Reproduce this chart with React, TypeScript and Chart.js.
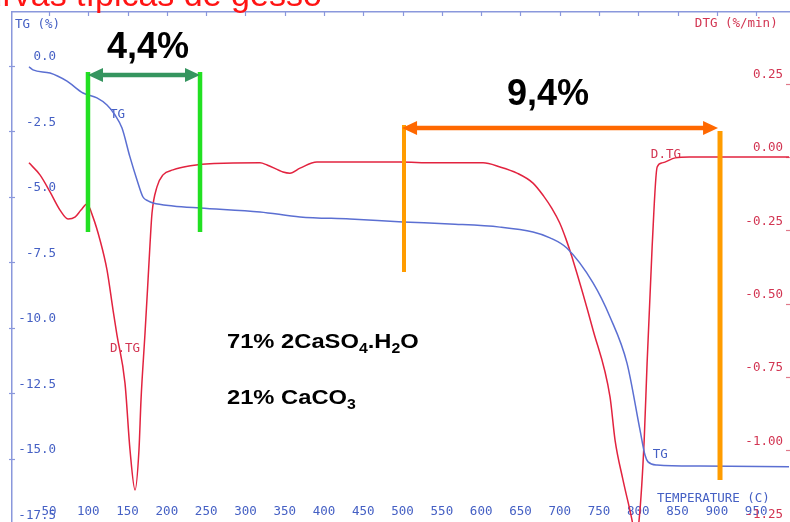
import React, { useEffect, useRef } from "react";
import { Chart, registerables } from "chart.js";

Chart.register(...registerables);

// ---- data ----
const tgTemp = [24.5, 29.6, 51.3, 72.9, 93.3, 111, 123.8, 134, 142.9, 153, 162, 169.6, 176, 182.4, 207.8, 242.2, 318.6, 369.5, 433, 500.5, 560, 624, 666, 687.6, 709, 742.4, 764, 785.6, 802.2, 808.5, 812.4, 823.8, 878.6, 991.8];
const tgValues = [-0.03, -0.15, -0.27, -0.58, -1.03, -1.22, -1.49, -1.87, -2.37, -3.47, -4.35, -5.0, -5.15, -5.23, -5.34, -5.42, -5.57, -5.76, -5.84, -5.95, -6.03, -6.15, -6.34, -6.56, -6.95, -8.28, -9.58, -11.34, -13.9, -14.85, -15.11, -15.23, -15.27, -15.3];

const dtgTemp = [24.5, 38.5, 51.3, 64, 74.2, 83, 90.7, 98.4, 106, 114.9, 123.8, 131.5, 136.5, 146.7, 153.1, 159.5, 164.5, 167.1, 172.2, 175.4, 178.5, 181.1, 187.4, 195.1, 207.8, 230, 260, 318.5, 327.5, 347.8, 356.7, 369.5, 391, 433, 496.7, 538.7, 602.4, 624, 645.6, 666, 680, 690, 700, 708, 715.6, 742.4, 764, 770.4, 780.5, 792, 796, 801, 807.5, 811.2, 817.6, 824, 830.4, 847, 865, 991.8];
const dtgValues = [-0.02, -0.061, -0.119, -0.181, -0.211, -0.205, -0.181, -0.16, -0.205, -0.283, -0.385, -0.522, -0.607, -0.771, -0.999, -1.135, -0.999, -0.828, -0.6, -0.45, -0.3, -0.191, -0.102, -0.061, -0.044, -0.03, -0.022, -0.02, -0.027, -0.051, -0.055, -0.038, -0.017, -0.017, -0.017, -0.02, -0.02, -0.034, -0.055, -0.089, -0.135, -0.175, -0.225, -0.28, -0.341, -0.59, -0.818, -0.965, -1.101, -1.238, -1.3, -1.238, -0.965, -0.702, -0.307, -0.034, -0.02, -0.003, 0, 0];

const tempTicks = [50, 100, 150, 200, 250, 300, 350, 400, 450, 500, 550, 600, 650, 700, 750, 800, 850, 900, 950];
const tgTicks = [0, -2.5, -5, -7.5, -10, -12.5, -15, -17.5];
const tgTickLabels = ["0.0", "-2.5", "-5.0", "-7.5", "-10.0", "-12.5", "-15.0", "-17.5"];
const dtgTicks = [0.25, 0, -0.25, -0.5, -0.75, -1.0, -1.25];
const dtgTickLabels = ["0.25", "0.00", "-0.25", "-0.50", "-0.75", "-1.00", "-1.25"];

// ---- styles ----
const TG_COLOR = "#5b6fd2";
const DTG_COLOR = "#e2233f";
const AXIS_BLUE = "#8a98dc";
const LABEL_BLUE = "#4560c4";
const LABEL_RED = "#d23552";
const MONO = '"DejaVu Sans Mono", monospace';
const SANS = '"Liberation Sans", Arial, sans-serif';

function arrow(ctx: CanvasRenderingContext2D, x1: number, x2: number, y: number, color: string, w: number) {
  const hl = 15, hh = 7;
  ctx.strokeStyle = color;
  ctx.fillStyle = color;
  ctx.lineWidth = w;
  ctx.beginPath();
  ctx.moveTo(x1 + hl - 2, y);
  ctx.lineTo(x2 - hl + 2, y);
  ctx.stroke();
  ctx.beginPath();
  ctx.moveTo(x1, y);
  ctx.lineTo(x1 + hl, y - hh);
  ctx.lineTo(x1 + hl, y + hh);
  ctx.closePath();
  ctx.fill();
  ctx.beginPath();
  ctx.moveTo(x2, y);
  ctx.lineTo(x2 - hl, y - hh);
  ctx.lineTo(x2 - hl, y + hh);
  ctx.closePath();
  ctx.fill();
}

function vline(ctx: CanvasRenderingContext2D, x: number, y1: number, y2: number, color: string, w: number) {
  ctx.strokeStyle = color;
  ctx.lineWidth = w;
  ctx.beginPath();
  ctx.moveTo(x, y1);
  ctx.lineTo(x, y2);
  ctx.stroke();
}

function chem(ctx: CanvasRenderingContext2D, parts: [string, boolean][], x: number, y: number) {
  ctx.save();
  ctx.translate(x, y);
  ctx.scale(1.13, 1);
  let cx = 0;
  for (const [t, sub] of parts) {
    ctx.font = sub ? `bold 14px ${SANS}` : `bold 21px ${SANS}`;
    ctx.fillText(t, cx, sub ? 5 : 0);
    cx += ctx.measureText(t).width;
  }
  ctx.restore();
}

const decor = {
  id: "decor",
  beforeDatasetsDraw(chart: any) {
    const { ctx, chartArea } = chart;
    const xs = chart.scales.x, ys = chart.scales.y, y2s = chart.scales.y2;
    ctx.save();
    // red cut-off title
    ctx.fillStyle = "#ff1414";
    ctx.font = `34px ${SANS}`;
    ctx.textAlign = "left";
    ctx.textBaseline = "alphabetic";
    const pre = ctx.measureText("Curvas tí").width;
    ctx.fillText("Curvas típicas de gesso", 95 - pre, 6);

    // ticks
    ctx.strokeStyle = AXIS_BLUE;
    ctx.lineWidth = 1.2;
    for (const t of tempTicks) {
      const px = Math.round(xs.getPixelForValue(t)) + 0.5;
      ctx.beginPath();
      ctx.moveTo(px, chartArea.top);
      ctx.lineTo(px, chartArea.top + 4);
      ctx.stroke();
    }
    for (const v of tgTicks) {
      const py = Math.round(ys.getPixelForValue(v)) + 0.5;
      ctx.beginPath();
      ctx.moveTo(chartArea.left - 3, py);
      ctx.lineTo(chartArea.left + 3, py);
      ctx.stroke();
    }
    ctx.strokeStyle = "#e07a8a";
    for (const v of dtgTicks) {
      const py = Math.round(y2s.getPixelForValue(v)) + 0.5;
      ctx.beginPath();
      ctx.moveTo(chartArea.right - 3, py);
      ctx.lineTo(chartArea.right + 1, py);
      ctx.stroke();
    }

    // tick labels
    ctx.font = `12.5px ${MONO}`;
    ctx.textBaseline = "middle";
    ctx.fillStyle = LABEL_BLUE;
    ctx.textAlign = "right";
    tgTicks.forEach((v, i) => {
      ctx.fillText(tgTickLabels[i], chartArea.left + 44, ys.getPixelForValue(v) - 9);
    });
    ctx.textAlign = "center";
    tempTicks.forEach((t) => {
      ctx.fillText(String(t), xs.getPixelForValue(t), chartArea.bottom - 10);
    });
    ctx.fillStyle = LABEL_RED;
    ctx.textAlign = "right";
    dtgTicks.forEach((v, i) => {
      ctx.fillText(dtgTickLabels[i], chartArea.right - 6, y2s.getPixelForValue(v) - 9);
    });

    // axis / curve captions
    ctx.textAlign = "left";
    ctx.textBaseline = "alphabetic";
    ctx.fillStyle = LABEL_BLUE;
    ctx.fillText("TG (%)", xs.getPixelForValue(6.7), ys.getPixelForValue(1.45));
    ctx.fillText("TG", xs.getPixelForValue(127.6), ys.getPixelForValue(-1.98));
    ctx.fillText("TG", xs.getPixelForValue(818.5), ys.getPixelForValue(-14.96));
    ctx.fillText("TEMPERATURE (C)", xs.getPixelForValue(823.8), ys.getPixelForValue(-16.64));
    ctx.fillStyle = LABEL_RED;
    ctx.fillText("DTG (%/min)", xs.getPixelForValue(872), ys.getPixelForValue(1.49));
    ctx.fillText("D.TG", xs.getPixelForValue(127.6), ys.getPixelForValue(-10.92));
    ctx.fillText("D.TG", xs.getPixelForValue(816), ys.getPixelForValue(-3.51));
    ctx.restore();
  },
  afterDatasetsDraw(chart: any) {
    const { ctx } = chart;
    const X = (t: number) => chart.scales.x.getPixelForValue(t);
    const Y = (v: number) => chart.scales.y.getPixelForValue(v);
    ctx.save();
    ctx.lineCap = "butt";
    // green: first mass loss
    vline(ctx, X(99.6), Y(-0.23), Y(-6.34), "#22e022", 4.5);
    vline(ctx, X(242.2), Y(-0.23), Y(-6.34), "#22e022", 4.5);
    arrow(ctx, X(99.6), X(242.2), Y(-0.34), "#35955f", 4.5);
    // orange: second mass loss
    vline(ctx, X(501.8), Y(-2.25), Y(-7.86), "#ff9c00", 4);
    vline(ctx, X(904), Y(-2.48), Y(-15.8), "#ff9c00", 5);
    arrow(ctx, X(499.3), X(901.5), Y(-2.37), "#ff6800", 4.5);

    ctx.fillStyle = "#000";
    ctx.textAlign = "center";
    ctx.textBaseline = "alphabetic";
    ctx.font = `bold 36px ${SANS}`;
    ctx.fillText("4,4%", X(176), Y(0.305));
    ctx.fillText("9,4%", X(685), Y(-1.49));

    ctx.textAlign = "left";
    chem(ctx, [["71% 2CaSO", false], ["4", true], [".H", false], ["2", true], ["O", false]], X(276.5), Y(-10.76));
    chem(ctx, [["21% CaCO", false], ["3", true]], X(276.5), Y(-12.9));
    ctx.restore();
  },
};

export default function App() {
  const ref = useRef<HTMLCanvasElement | null>(null);
  useEffect(() => {
    document.body.style.margin = "0";
    const canvas = ref.current;
    if (!canvas) return;
    const zero = (s: any) => {
      if (s.isHorizontal()) s.height = 0;
      else s.width = 0;
    };
    const chart = new Chart(canvas, {
      type: "line",
      data: {
        datasets: [
          {
            label: "TG",
            data: tgTemp.map((t, i) => ({ x: t, y: tgValues[i] })),
            yAxisID: "y",
            borderColor: TG_COLOR,
            borderWidth: 1.5,
            pointRadius: 0,
            cubicInterpolationMode: "monotone",
            fill: false,
          },
          {
            label: "D.TG",
            data: dtgTemp.map((t, i) => ({ x: t, y: dtgValues[i] })),
            yAxisID: "y2",
            borderColor: DTG_COLOR,
            borderWidth: 1.5,
            pointRadius: 0,
            cubicInterpolationMode: "monotone",
            fill: false,
          },
        ],
      },
      options: {
        animation: false,
        responsive: true,
        maintainAspectRatio: false,
        events: [],
        layout: { padding: { left: 12, top: 12, right: 1, bottom: 0 } },
        plugins: { legend: { display: false }, tooltip: { enabled: false }, title: { display: false } },
        scales: {
          x: {
            type: "linear",
            position: "top",
            min: 2.9,
            max: 991.8,
            ticks: { display: false },
            grid: { display: true, drawOnChartArea: false, drawTicks: false },
            border: { display: true, color: AXIS_BLUE, width: 1.5 },
            afterFit: zero,
          },
          y: {
            type: "linear",
            position: "left",
            min: -17.405,
            max: 2.061,
            ticks: { display: false },
            grid: { display: true, drawOnChartArea: false, drawTicks: false },
            border: { display: true, color: AXIS_BLUE, width: 1.5 },
            afterFit: zero,
          },
          y2: {
            type: "linear",
            position: "right",
            min: -1.2445,
            max: 0.4944,
            ticks: { display: false },
            grid: { display: true, drawOnChartArea: false, drawTicks: false },
            border: { display: false },
            afterFit: zero,
          },
        },
      } as any,
      plugins: [decor],
    });
    return () => chart.destroy();
  }, []);
  return (
    <div style={{ position: "fixed", left: 0, top: 0, width: 790, height: 522, background: "#fff", overflow: "hidden" }}>
      <canvas ref={ref} />
    </div>
  );
}
